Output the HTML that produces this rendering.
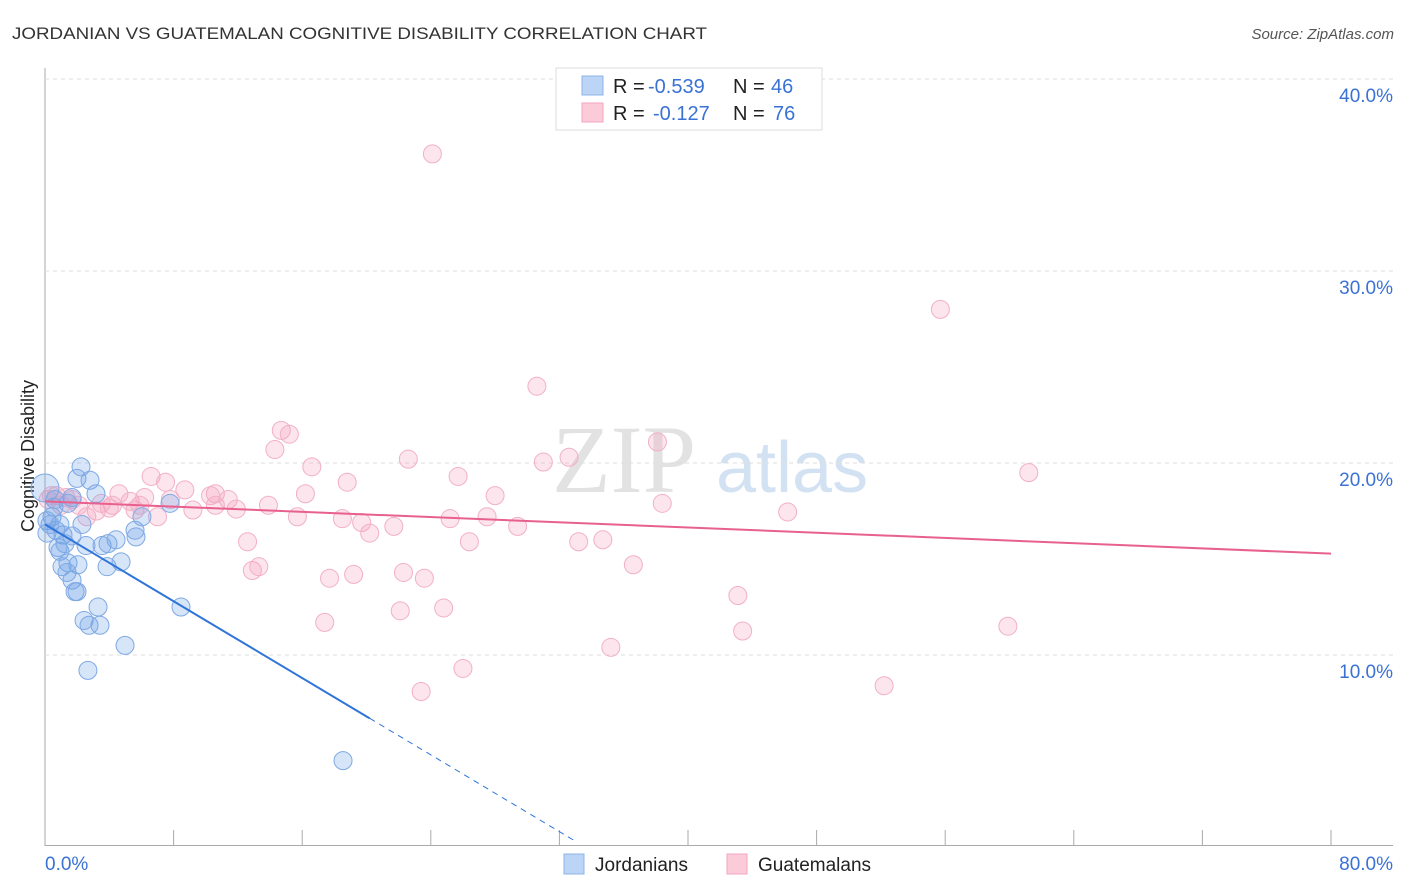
<!DOCTYPE html>
<html><head><meta charset="utf-8"><style>
body{margin:0;background:#fff;font-family:"Liberation Sans",sans-serif;}
svg{display:block}
</style></head><body>
<svg id="chart" width="1406" height="892">
<text x="12" y="39" font-size="17" fill="#333" textLength="695" lengthAdjust="spacingAndGlyphs">JORDANIAN VS GUATEMALAN COGNITIVE DISABILITY CORRELATION CHART</text>
<text x="1394" y="39" font-size="15" fill="#555" font-style="italic" text-anchor="end">Source: ZipAtlas.com</text>
<text x="0" y="0" font-size="18" fill="#222" transform="translate(34,456) rotate(-90)" text-anchor="middle">Cognitive Disability</text>
<text x="552" y="492" font-size="96" fill="#e2e2e2" font-family="Liberation Serif,serif">ZIP</text>
<text x="716" y="492" font-size="72" fill="#d3e2f3">atlas</text>
<g id="grid"></g><g id="marks"></g>
<g>
<rect x="556" y="68" width="266" height="62" fill="#fff" stroke="#ddd"/>
<rect x="582" y="76" width="21" height="19" fill="#bcd4f5" stroke="#8db4ea"/>
<rect x="582" y="103" width="21" height="19" fill="#fccbd9" stroke="#f3a6bf"/>
<text x="613" y="93" font-size="20" fill="#222">R = <tspan fill="#3a72d4" x="648">-0.539</tspan><tspan x="733">N = </tspan><tspan fill="#3a72d4" x="771">46</tspan></text>
<text x="613" y="120" font-size="20" fill="#222">R = <tspan fill="#3a72d4" x="653">-0.127</tspan><tspan x="733">N = </tspan><tspan fill="#3a72d4" x="773">76</tspan></text>
</g>
<g>
<rect x="564" y="854" width="20" height="20" fill="#bcd4f5" stroke="#8db4ea"/>
<text x="595" y="871" font-size="19" fill="#222">Jordanians</text>
<rect x="727" y="854" width="20" height="20" fill="#fccbd9" stroke="#f3a6bf"/>
<text x="758" y="871" font-size="19" fill="#222">Guatemalans</text>
</g>
</svg>
<script>
const yTicks=[10,20,30,40];
const yTickLabels=["10.0%","20.0%","30.0%","40.0%"];
const xTicks=[0,8,16,24,32,40,48,56,64,72,80];
const blueX=[2.24,1.99,2.8,3.17,1.68,1.43,0.56,0.44,0.12,2.3,0.68,1.12,0.12,1.68,2.55,0.81,3.55,3.92,4.42,0.93,5.6,5.66,6.03,7.78,1.43,1.06,2.05,3.86,4.73,1.37,1.68,1.87,1.99,3.3,8.46,2.43,2.74,3.42,4.98,2.67,18.54,0,0.93,1.24,0.31,0.62];
const blueY=[19.8,19.2,19.1,18.4,18.2,17.9,17.7,17.2,17.0,16.8,16.5,16.25,16.35,16.2,15.7,15.6,15.7,15.8,16.0,15.4,16.5,16.15,17.2,17.9,14.8,14.6,14.7,14.6,14.85,14.3,13.9,13.3,13.3,12.5,12.5,11.8,11.55,11.55,10.5,9.2,4.5,18.7,16.8,15.8,16.8,18.1];
const pinkX=[24.1,55.7,30.6,38.1,14.7,15.2,14.3,22.6,31.0,32.6,61.2,16.6,25.7,6.6,7.5,18.8,8.7,10.6,10.3,16.2,28.0,4.6,0.7,1.7,1.0,3.5,4.2,5.3,6.2,7.8,11.4,9.2,10.6,11.9,13.9,3.2,2.6,2.1,38.4,46.2,7.0,15.7,18.5,19.7,21.7,25.2,27.5,29.4,20.2,12.6,26.4,33.2,34.7,36.6,12.9,13.3,17.7,19.2,22.3,23.6,43.1,22.1,24.8,17.4,59.9,43.4,35.2,26.0,23.4,52.2,0.2,0.4,1.3,4.0,5.6,5.9];
const pinkY=[36.1,28.0,24.0,21.1,21.7,21.5,20.7,20.2,20.05,20.3,19.5,19.8,19.3,19.3,19.0,19.0,18.6,18.4,18.3,18.4,18.3,18.4,18.3,18.1,17.8,17.9,17.8,18.0,18.2,18.1,18.1,17.55,17.8,17.6,17.8,17.5,17.2,17.8,17.9,17.45,17.2,17.2,17.1,16.9,16.7,17.1,17.2,16.7,16.35,15.9,15.9,15.9,16.0,14.7,14.4,14.6,14.0,14.2,14.3,14.0,13.1,12.3,12.45,11.7,11.5,11.25,10.4,9.3,8.1,8.4,18.1,18.3,18.2,17.65,17.55,17.8];
const blueTrend=[16.8,-0.5,20.2,33];
const pinkTrend=[18.0,-0.034,80];
const X=v=>45+v*16.075, Y=v=>847-v*19.2;
const NS="http://www.w3.org/2000/svg";
function mk(p,t,a){const e=document.createElementNS(NS,t);for(const k in a)e.setAttribute(k,a[k]);p.appendChild(e);return e;}
const g=document.getElementById('grid'),m=document.getElementById('marks');
let ax=mk(g,'line',{x1:45,y1:68,x2:45,y2:846,stroke:'#aaa'});


let bx=mk(g,'line',{x1:45,y1:845.5,x2:1393,y2:845.5,stroke:'#aaa'});


yTicks.forEach((t,i)=>{
 let l=mk(g,'line',{x1:45,y1:Y(t),x2:1393,y2:Y(t),stroke:'#ddd','stroke-dasharray':'4,4'});
 
 
 let tx=mk(g,'text',{x:1393,y:Y(t)+23,'font-size':19,fill:'#3a72d4','text-anchor':'end'});
 tx.textContent=yTickLabels[i];
 
 
});
xTicks.forEach(t=>{
 let l=mk(g,'line',{x1:X(t),y1:830,x2:X(t),y2:846,stroke:'#aaa'});
 
 
});
let x0=mk(g,'text',{x:45,y:870,'font-size':19,fill:'#3a72d4'});x0.textContent='0.0%';


let x1=mk(g,'text',{x:1393,y:870,'font-size':19,fill:'#3a72d4','text-anchor':'end'});x1.textContent='80.0%';


pinkX.forEach((v,i)=>{
 let c=mk(m,'circle',{cx:X(v),cy:Y(pinkY[i]),r:9,fill:'rgba(245,160,190,0.28)',stroke:'#f2b0c6','stroke-width':1});
 
 
});
blueX.forEach((v,i)=>{
 let c=mk(m,'circle',{cx:X(v),cy:Y(blueY[i]),r:(i==41?14:9),fill:'rgba(110,160,230,0.28)',stroke:'#7ea9e4','stroke-width':1});
 
 
});
let pt=mk(m,'line',{x1:X(0),y1:Y(pinkTrend[0]),x2:X(pinkTrend[2]),y2:Y(pinkTrend[0]+pinkTrend[1]*pinkTrend[2]),stroke:'#e8608e','stroke-width':2});


let bt=mk(m,'line',{x1:X(0),y1:Y(blueTrend[0]),x2:X(blueTrend[2]),y2:Y(blueTrend[0]+blueTrend[1]*blueTrend[2]),stroke:'#2f74d8','stroke-width':2});


let bd=mk(m,'line',{x1:X(blueTrend[2]),y1:Y(blueTrend[0]+blueTrend[1]*blueTrend[2]),x2:X(blueTrend[3]),y2:Y(blueTrend[0]+blueTrend[1]*blueTrend[3]),stroke:'#2f74d8','stroke-width':1,'stroke-dasharray':'6,5'});


</script>
</body></html>
